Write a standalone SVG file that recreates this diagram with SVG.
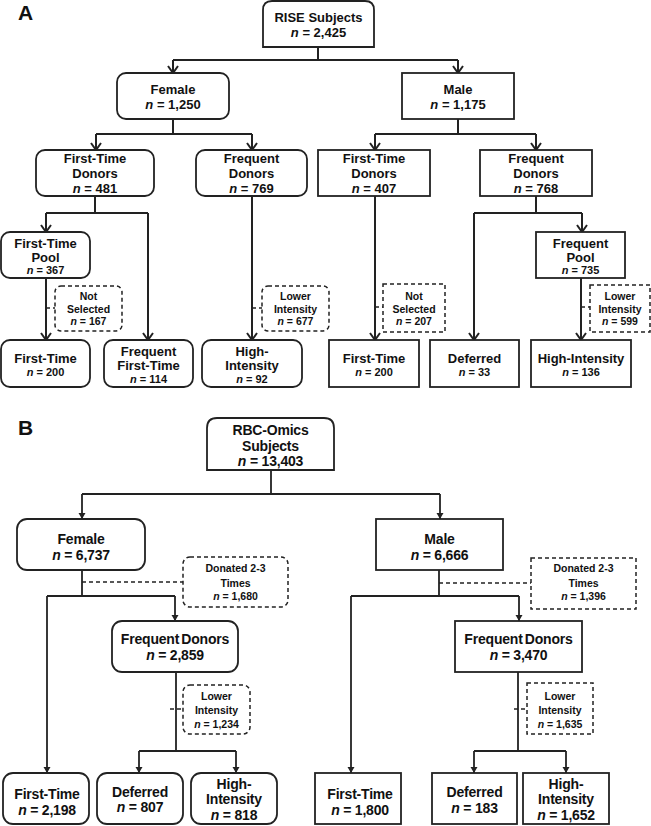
<svg xmlns="http://www.w3.org/2000/svg" width="651" height="826" viewBox="0 0 651 826">
<style>
text{font-family:"Liberation Sans",Arial,sans-serif;font-weight:bold;fill:#111;text-anchor:middle}
.t13{font-size:13px}.t11{font-size:11px}.t10{font-size:10.5px}.t14{font-size:14px;letter-spacing:-0.2px}.tb{font-size:10.5px}
.lbl{font-size:21px;text-anchor:start}
.box{fill:#fff;stroke:#222;stroke-width:1.8}
.dbox{fill:#fff;stroke:#222;stroke-width:1.5;stroke-dasharray:4 3}
.ln{fill:none;stroke:#222;stroke-width:2}
.lnb{fill:none;stroke:#222;stroke-width:1.8}
.dl{fill:none;stroke:#222;stroke-width:1.5;stroke-dasharray:4 3}
.i{font-style:italic}
.wn{word-spacing:-1.5px}
</style>
<defs>
<marker id="aA" markerUnits="userSpaceOnUse" viewBox="-10 -7 12 14" refX="0" refY="0" markerWidth="12" markerHeight="14" orient="auto">
<path d="M-7,-5 L0,0 L-7,5" fill="none" stroke="#222" stroke-width="2"/>
</marker>
<marker id="aB" markerUnits="userSpaceOnUse" viewBox="-8 -5 9 10" refX="0" refY="0" markerWidth="9" markerHeight="10" orient="auto">
<path d="M-6,-3.5 L0,0 L-6,3.5 z" fill="#222"/>
</marker>
</defs>

<text class="lbl" x="18" y="20">A</text>
<text class="lbl" x="18" y="435">B</text>

<g id="connectors">
<!-- Panel A -->
<path class="ln" d="M318,47 V60 M173,60 H458"/>
<path class="ln" d="M173,60 V73" marker-end="url(#aA)"/>
<path class="ln" d="M458,60 V73" marker-end="url(#aA)"/>
<path class="ln" d="M173,119 V134 M96,134 H252"/>
<path class="ln" d="M96,134 V150" marker-end="url(#aA)"/>
<path class="ln" d="M252,134 V150" marker-end="url(#aA)"/>
<path class="ln" d="M458,119 V134 M375,134 H536"/>
<path class="ln" d="M375,134 V150" marker-end="url(#aA)"/>
<path class="ln" d="M536,134 V150" marker-end="url(#aA)"/>
<path class="ln" d="M95,196 V213 M46,213 H148"/>
<path class="ln" d="M46,213 V232" marker-end="url(#aA)"/>
<path class="ln" d="M148,213 V340" marker-end="url(#aA)"/>
<path class="ln" d="M46,278 V340" marker-end="url(#aA)"/>
<path class="dl" d="M46,308 H55"/>
<path class="ln" d="M252,196 V340" marker-end="url(#aA)"/>
<path class="dl" d="M252,308 H262"/>
<path class="ln" d="M375,196 V340" marker-end="url(#aA)"/>
<path class="dl" d="M375,307 H383"/>
<path class="ln" d="M536,196 V213 M474,213 H582"/>
<path class="ln" d="M474,213 V340" marker-end="url(#aA)"/>
<path class="ln" d="M582,213 V232" marker-end="url(#aA)"/>
<path class="ln" d="M581,278 V340" marker-end="url(#aA)"/>
<path class="dl" d="M581,307 H590"/>
<!-- Panel B -->
<path class="lnb" d="M271,470 V494 M82,494 H440"/>
<path class="lnb" d="M82,494 V519" marker-end="url(#aB)"/>
<path class="lnb" d="M440,494 V519" marker-end="url(#aB)"/>
<path class="lnb" d="M82,570 V596 M47,596 H175"/>
<path class="lnb" d="M175,596 V621" marker-end="url(#aB)"/>
<path class="lnb" d="M47,596 V773" marker-end="url(#aB)"/>
<path class="dl" d="M82,582 H183"/>
<path class="lnb" d="M439,570 V596 M351,596 H519"/>
<path class="lnb" d="M519,596 V621" marker-end="url(#aB)"/>
<path class="lnb" d="M351,596 V773" marker-end="url(#aB)"/>
<path class="dl" d="M439,583 H531"/>
<path class="lnb" d="M176,672 V751 M139,751 H236"/>
<path class="lnb" d="M139,751 V773" marker-end="url(#aB)"/>
<path class="lnb" d="M236,751 V773" marker-end="url(#aB)"/>
<path class="dl" d="M170,709 H183"/>
<path class="lnb" d="M518,672 V751 M474,751 H566"/>
<path class="lnb" d="M474,751 V773" marker-end="url(#aB)"/>
<path class="lnb" d="M566,751 V773" marker-end="url(#aB)"/>
<path class="dl" d="M514,709 H527"/>
</g>

<!-- Panel A nodes -->
<g id="a-root">
<path class="box" d="M263,47 V10 Q263,1 272,1 H365 Q374,1 374,10 V47 Z"/>
<text class="t13" x="318.5" y="22">RISE Subjects</text>
<text class="t13" x="318.5" y="36.5"><tspan class="i">n</tspan> = 2,425</text>
</g>
<g id="a-female">
<rect class="box" x="117" y="73" width="112" height="46" rx="9"/>
<text class="t13" x="173" y="94">Female</text>
<text class="t13" x="173" y="108.5"><tspan class="i">n</tspan> = 1,250</text>
</g>
<g id="a-male">
<rect class="box" x="402" y="73" width="112" height="46"/>
<text class="t13" x="458" y="94">Male</text>
<text class="t13" x="458" y="108.5"><tspan class="i">n</tspan> = 1,175</text>
</g>
<g id="a-f-firsttime-donors">
<rect class="box" x="36" y="150" width="118" height="46" rx="9"/>
<text class="t13" x="95" y="163">First-Time</text>
<text class="t13" x="95" y="178">Donors</text>
<text class="t13" x="95" y="192.5"><tspan class="i">n</tspan> = 481</text>
</g>
<g id="a-f-frequent-donors">
<rect class="box" x="196" y="150" width="111" height="46" rx="9"/>
<text class="t13" x="251.5" y="163">Frequent</text>
<text class="t13" x="251.5" y="178">Donors</text>
<text class="t13" x="251.5" y="192.5"><tspan class="i">n</tspan> = 769</text>
</g>
<g id="a-m-firsttime-donors">
<rect class="box" x="318" y="150" width="112" height="46"/>
<text class="t13" x="374" y="163">First-Time</text>
<text class="t13" x="374" y="178">Donors</text>
<text class="t13" x="374" y="192.5"><tspan class="i">n</tspan> = 407</text>
</g>
<g id="a-m-frequent-donors">
<rect class="box" x="480" y="150" width="112" height="46"/>
<text class="t13" x="536" y="163">Frequent</text>
<text class="t13" x="536" y="178">Donors</text>
<text class="t13" x="536" y="192.5"><tspan class="i">n</tspan> = 768</text>
</g>
<g id="a-f-pool">
<rect class="box" x="1" y="232" width="89" height="46" rx="9"/>
<text class="t13" x="45.5" y="247.5">First-Time</text>
<text class="t13" x="45.5" y="262">Pool</text>
<text class="t11" x="45.5" y="274"><tspan class="i">n</tspan> = 367</text>
</g>
<g id="a-f-notselected">
<rect class="dbox" x="55" y="286" width="67" height="45" rx="6"/>
<text class="t10" x="88.5" y="300">Not</text>
<text class="t10" x="88.5" y="312.5">Selected</text>
<text class="t10" x="88.5" y="325"><tspan class="i">n</tspan> = 167</text>
</g>
<g id="a-f-firsttime">
<rect class="box" x="1" y="340" width="89" height="47" rx="9"/>
<text class="t13" x="45.5" y="362.5">First-Time</text>
<text class="t11" x="45.5" y="375.5"><tspan class="i">n</tspan> = 200</text>
</g>
<g id="a-f-freq-firsttime">
<rect class="box" x="104" y="340" width="89" height="47" rx="9"/>
<text class="t13" x="148.5" y="356">Frequent</text>
<text class="t13" x="148.5" y="370">First-Time</text>
<text class="t11" x="148.5" y="382.5"><tspan class="i">n</tspan> = 114</text>
</g>
<g id="a-f-lower">
<rect class="dbox" x="262" y="286" width="67" height="45" rx="6"/>
<text class="t10" x="295.5" y="300">Lower</text>
<text class="t10" x="295.5" y="312.5">Intensity</text>
<text class="t10" x="295.5" y="325"><tspan class="i">n</tspan> = 677</text>
</g>
<g id="a-f-high">
<rect class="box" x="202" y="340" width="100" height="47" rx="9"/>
<text class="t13" x="252" y="356">High-</text>
<text class="t13" x="252" y="370">Intensity</text>
<text class="t11" x="252" y="382.5"><tspan class="i">n</tspan> = 92</text>
</g>
<g id="a-m-notselected">
<rect class="dbox" x="383" y="284" width="62" height="48"/>
<text class="t10" x="414" y="300">Not</text>
<text class="t10" x="414" y="312.5">Selected</text>
<text class="t10" x="414" y="325"><tspan class="i">n</tspan> = 207</text>
</g>
<g id="a-m-firsttime">
<rect class="box" x="329" y="340" width="90" height="47"/>
<text class="t13" x="374" y="362.5">First-Time</text>
<text class="t11" x="374" y="375.5"><tspan class="i">n</tspan> = 200</text>
</g>
<g id="a-m-pool">
<rect class="box" x="536" y="232" width="89" height="46"/>
<text class="t13" x="580.5" y="247.5">Frequent</text>
<text class="t13" x="580.5" y="262">Pool</text>
<text class="t11" x="580.5" y="274"><tspan class="i">n</tspan> = 735</text>
</g>
<g id="a-m-lower">
<rect class="dbox" x="590" y="285" width="60" height="47"/>
<text class="t10" x="620" y="300">Lower</text>
<text class="t10" x="620" y="312.5">Intensity</text>
<text class="t10" x="620" y="325"><tspan class="i">n</tspan> = 599</text>
</g>
<g id="a-m-deferred">
<rect class="box" x="430" y="340" width="89" height="47"/>
<text class="t13" x="474.5" y="362.5">Deferred</text>
<text class="t11" x="474.5" y="375.5"><tspan class="i">n</tspan> = 33</text>
</g>
<g id="a-m-high">
<rect class="box" x="531" y="340" width="100" height="47"/>
<text class="t13" x="581" y="362.5">High-Intensity</text>
<text class="t11" x="581" y="375.5"><tspan class="i">n</tspan> = 136</text>
</g>

<!-- Panel B nodes -->
<g id="b-root">
<path class="box" d="M207,470 V428 Q207,418 217,418 H324 Q334,418 334,428 V470 Z"/>
<text class="t14" x="270.5" y="435">RBC-Omics</text>
<text class="t14" x="270.5" y="450.5">Subjects</text>
<text class="t14" x="270.5" y="466"><tspan class="i">n</tspan> = 13,403</text>
</g>
<g id="b-female">
<rect class="box" x="17" y="519" width="128" height="51" rx="10"/>
<text class="t14" x="81" y="544">Female</text>
<text class="t14" x="81" y="560"><tspan class="i">n</tspan> = 6,737</text>
</g>
<g id="b-male">
<rect class="box" x="376" y="519" width="127" height="51"/>
<text class="t14" x="439.5" y="544">Male</text>
<text class="t14" x="439.5" y="560"><tspan class="i">n</tspan> = 6,666</text>
</g>
<g id="b-f-donated">
<rect class="dbox" x="183" y="557" width="105" height="50" rx="7"/>
<text class="tb" x="235.5" y="572">Donated 2-3</text>
<text class="tb" x="235.5" y="587">Times</text>
<text class="tb" x="235.5" y="600"><tspan class="i">n</tspan> = 1,680</text>
</g>
<g id="b-m-donated">
<rect class="dbox" x="531" y="558" width="105" height="51"/>
<text class="tb" x="583.5" y="572">Donated 2-3</text>
<text class="tb" x="583.5" y="587">Times</text>
<text class="tb" x="583.5" y="600"><tspan class="i">n</tspan> = 1,396</text>
</g>
<g id="b-f-frequent">
<rect class="box" x="112" y="621" width="126" height="51" rx="10"/>
<text class="t14 wn" x="175" y="644">Frequent Donors</text>
<text class="t14" x="175" y="660"><tspan class="i">n</tspan> = 2,859</text>
</g>
<g id="b-m-frequent">
<rect class="box" x="455" y="621" width="127" height="51"/>
<text class="t14 wn" x="518.5" y="644">Frequent Donors</text>
<text class="t14" x="518.5" y="660"><tspan class="i">n</tspan> = 3,470</text>
</g>
<g id="b-f-lower">
<rect class="dbox" x="183" y="685" width="67" height="49" rx="7"/>
<text class="t10" x="216.5" y="700">Lower</text>
<text class="t10" x="216.5" y="714">Intensity</text>
<text class="t10" x="216.5" y="727.5"><tspan class="i">n</tspan> = 1,234</text>
</g>
<g id="b-m-lower">
<rect class="dbox" x="527" y="683" width="66" height="51"/>
<text class="t10" x="560" y="700">Lower</text>
<text class="t10" x="560" y="714">Intensity</text>
<text class="t10" x="560" y="727.5"><tspan class="i">n</tspan> = 1,635</text>
</g>
<g id="b-f-firsttime">
<rect class="box" x="3" y="773" width="86" height="51" rx="10"/>
<text class="t14" x="47" y="799">First-Time</text>
<text class="t14" x="47" y="814.5"><tspan class="i">n</tspan> = 2,198</text>
</g>
<g id="b-f-deferred">
<rect class="box" x="97" y="773" width="86" height="51" rx="10"/>
<text class="t14" x="140" y="797">Deferred</text>
<text class="t14" x="140" y="812"><tspan class="i">n</tspan> = 807</text>
</g>
<g id="b-f-high">
<rect class="box" x="191" y="773" width="86" height="51" rx="10"/>
<text class="t14" x="234" y="788.5">High-</text>
<text class="t14" x="234" y="804">Intensity</text>
<text class="t14" x="234" y="819.5"><tspan class="i">n</tspan> = 818</text>
</g>
<g id="b-m-firsttime">
<rect class="box" x="315" y="773" width="86" height="51"/>
<text class="t14" x="360" y="799">First-Time</text>
<text class="t14" x="360" y="814.5"><tspan class="i">n</tspan> = 1,800</text>
</g>
<g id="b-m-deferred">
<rect class="box" x="432" y="773" width="85" height="51"/>
<text class="t14" x="474.5" y="797">Deferred</text>
<text class="t14" x="474.5" y="812.5"><tspan class="i">n</tspan> = 183</text>
</g>
<g id="b-m-high">
<rect class="box" x="523" y="773" width="86" height="51"/>
<text class="t14" x="566" y="788.5">High-</text>
<text class="t14" x="566" y="804">Intensity</text>
<text class="t14" x="566" y="819.5"><tspan class="i">n</tspan> = 1,652</text>
</g>
</svg>
